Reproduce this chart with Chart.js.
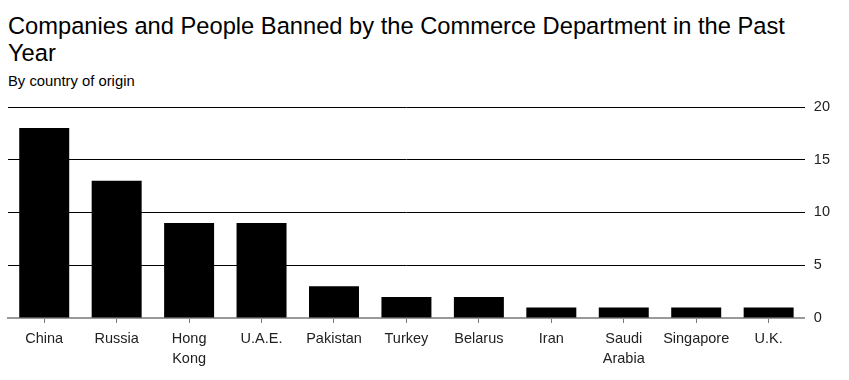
<!DOCTYPE html>
<html>
<head>
<meta charset="utf-8">
<script src="https://cdn.jsdelivr.net/npm/chart.js@4/dist/chart.umd.min.js"></script>
<style>
  html, body { margin: 0; padding: 0; background: #fff; }
  body { width: 849px; height: 380px; position: relative; overflow: hidden; font-family: "Liberation Sans", Arial, Helvetica, sans-serif; }
  #title { position: absolute; left: 8px; top: 13px; font-size: 23.7px; line-height: 27px; color: #000; }
  #subtitle { position: absolute; left: 8px; top: 73px; font-size: 14.8px; line-height: 16px; color: #000; }
  #wrap { position: absolute; left: 0; top: 0; width: 849px; height: 380px; }
</style>
</head>
<body>
<div id="title">Companies and People Banned by the Commerce Department in the Past<br>Year</div>
<div id="subtitle">By country of origin</div>
<div id="wrap"><canvas id="c" width="849" height="380"></canvas></div>
<script>
const categories = ["China", ["Russia"], ["Hong", "Kong"], "U.A.E.", "Pakistan", "Turkey", "Belarus", "Iran", ["Saudi", "Arabia"], "Singapore", "U.K."];
const banned = [18, 13, 9, 9, 3, 2, 2, 1, 1, 1, 1];
const yTicks = [0, 5, 10, 15, 20];

const FONT = "'Liberation Sans', Arial, Helvetica, sans-serif";

new Chart(document.getElementById('c'), {
  type: 'bar',
  data: {
    labels: categories,
    datasets: [{
      data: banned,
      backgroundColor: '#000',
      borderWidth: 0,
      barPercentage: 0.69,
      categoryPercentage: 1.0
    }]
  },
  options: {
    responsive: false,
    animation: false,
    devicePixelRatio: 1,
    layout: { padding: { top: 107, right: 10, left: 8, bottom: 5 } },
    plugins: { legend: { display: false }, tooltip: { enabled: false }, title: { display: false } },
    scales: {
      x: {
        grid: { display: true, drawOnChartArea: false, offset: false, tickLength: 5, color: '#777', lineWidth: 1 },
        border: { display: true, color: '#999', width: 2 },
        ticks: { color: '#222', font: { family: FONT, size: 14.5, lineHeight: 1.38 }, padding: 6, maxRotation: 0, autoSkip: false }
      },
      y: {
        position: 'right',
        min: 0, max: 20,
        afterBuildTicks: (axis) => { axis.ticks = yTicks.map(v => ({ value: v })); },
        grid: { drawTicks: false, color: (ctx) => ctx.tick && ctx.tick.value === 0 ? 'rgba(0,0,0,0)' : '#000', lineWidth: 1 },
        border: { display: false },
        ticks: { color: '#222', font: { family: FONT, size: 14.5 }, padding: 9 }
      }
    }
  }
});
</script>
</body>
</html>
